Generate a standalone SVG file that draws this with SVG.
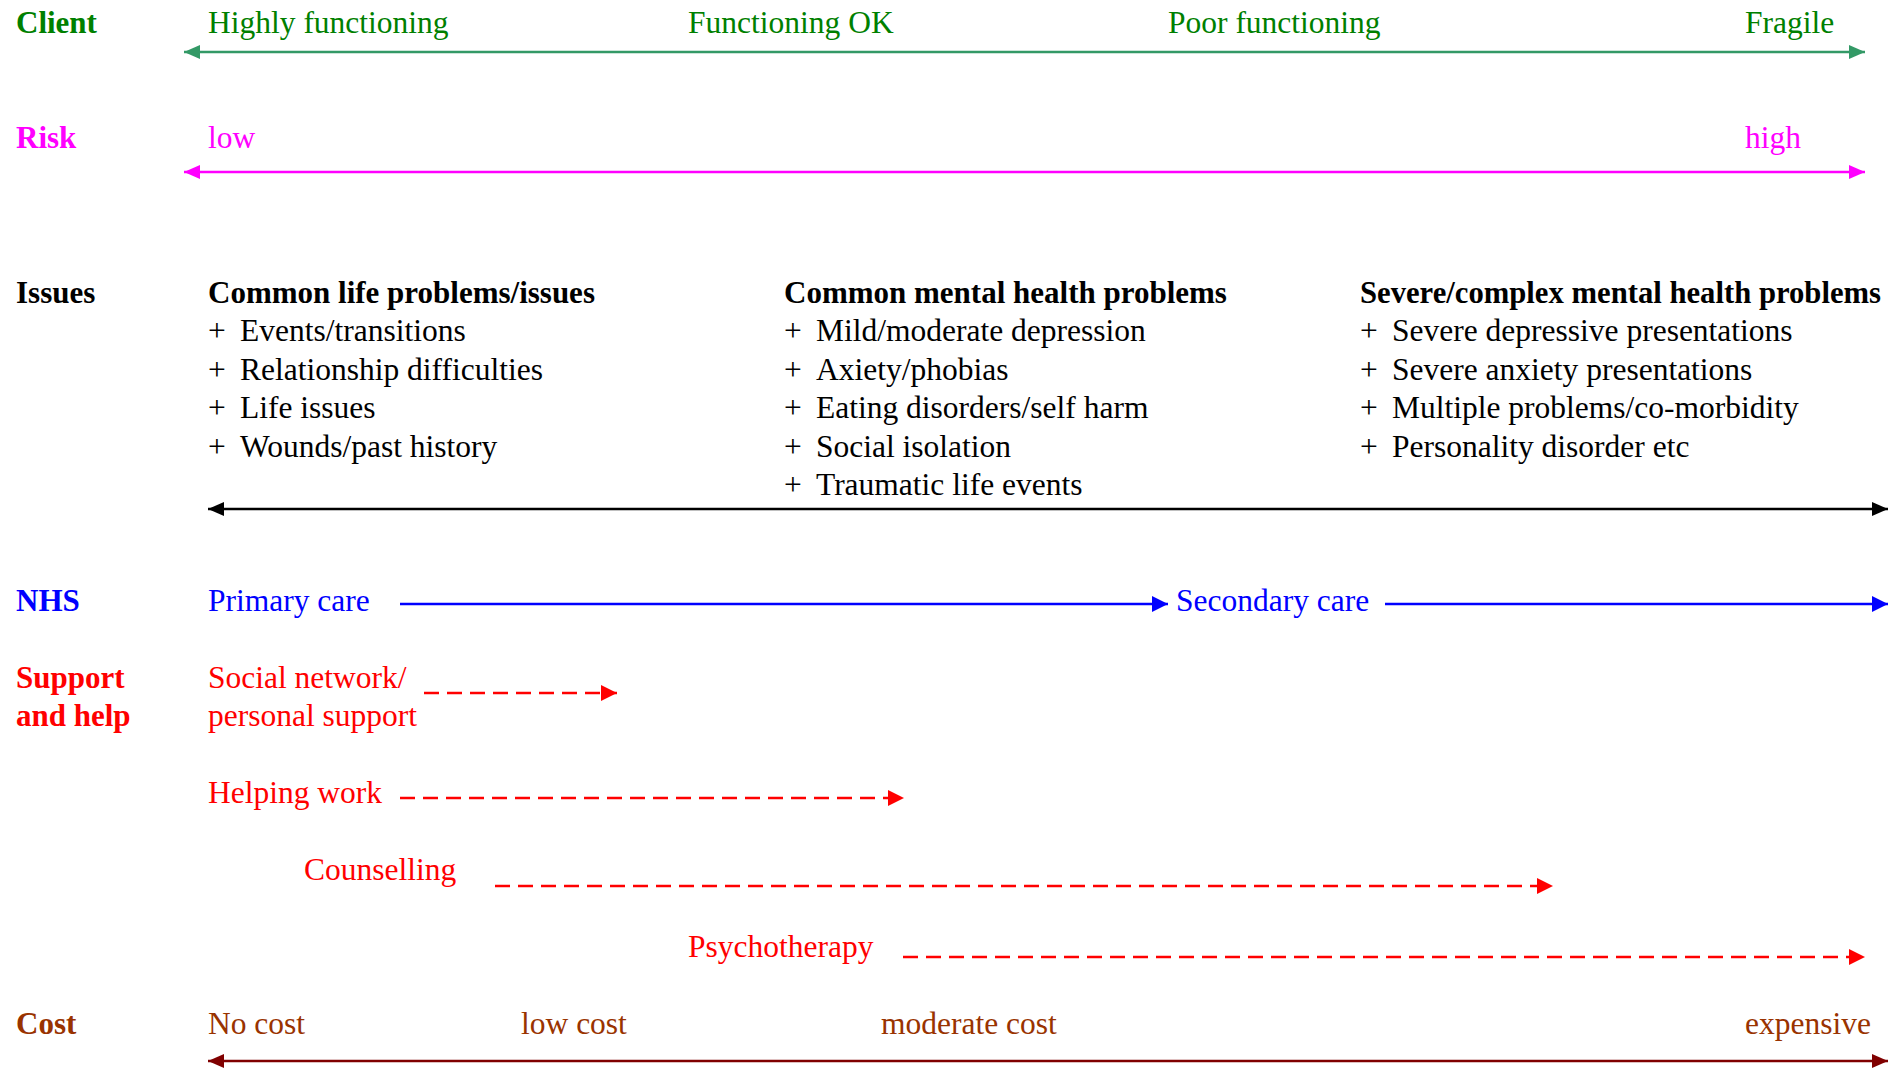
<svg xmlns="http://www.w3.org/2000/svg" width="1890" height="1069" viewBox="0 0 1890 1069">
  <style>
    text { font-family: "Liberation Serif", "Times New Roman", serif; font-size: 31.5px; }
    .head { font-weight: bold; font-size: 31px; }
    .client { fill: #008000; }
    .risk { fill: #ff00ff; }
    .issues { fill: #000000; }
    .nhs { fill: #0000ff; }
    .support { fill: #ff0000; }
    .cost { fill: #993300; }
    .ln { fill: none; stroke-width: 2.5; }
    .dash { fill: none; stroke: #ff0000; stroke-width: 2.5; stroke-dasharray: 15 8; }
  </style>
  <defs>
    <marker id="ah-green" markerUnits="userSpaceOnUse" viewBox="0 0 16 14" markerWidth="16" markerHeight="14" refX="16" refY="7" orient="auto-start-reverse"><path d="M0,0 L16,7 L0,14 z" fill="#339966"/></marker>
    <marker id="ah-magenta" markerUnits="userSpaceOnUse" viewBox="0 0 16 14" markerWidth="16" markerHeight="14" refX="16" refY="7" orient="auto-start-reverse"><path d="M0,0 L16,7 L0,14 z" fill="#ff00ff"/></marker>
    <marker id="ah-black" markerUnits="userSpaceOnUse" viewBox="0 0 16 14" markerWidth="16" markerHeight="14" refX="16" refY="7" orient="auto-start-reverse"><path d="M0,0 L16,7 L0,14 z" fill="#000000"/></marker>
    <marker id="ah-blue" markerUnits="userSpaceOnUse" viewBox="0 0 16 16" markerWidth="16" markerHeight="16" refX="16" refY="8" orient="auto"><path d="M0,0 L16,8 L0,16 z" fill="#0000ff"/></marker>
    <marker id="ah-red" markerUnits="userSpaceOnUse" viewBox="0 0 16 16" markerWidth="16" markerHeight="16" refX="16" refY="8" orient="auto"><path d="M0,0 L16,8 L0,16 z" fill="#ff0000"/></marker>
    <marker id="ah-brown" markerUnits="userSpaceOnUse" viewBox="0 0 16 14" markerWidth="16" markerHeight="14" refX="16" refY="7" orient="auto-start-reverse"><path d="M0,0 L16,7 L0,14 z" fill="#800000"/></marker>
  </defs>

  <rect width="1890" height="1069" fill="#ffffff"/>

  <!-- Client scale -->
  <g id="client">
    <text class="head client" x="16" y="33">Client</text>
    <text class="client" x="208" y="33">Highly functioning</text>
    <text class="client" x="688" y="33">Functioning OK</text>
    <text class="client" x="1168" y="33">Poor functioning</text>
    <text class="client" x="1745" y="33">Fragile</text>
  </g>

  <!-- Risk scale -->
  <g id="risk">
    <text class="head risk" x="16" y="148">Risk</text>
    <text class="risk" x="208" y="148">low</text>
    <text class="risk" x="1745" y="148">high</text>
  </g>

  <!-- Issues, three columns -->
  <g id="issues">
    <text class="head issues" x="16" y="303">Issues</text>
  </g>
  <g id="issues-life">
    <text class="head issues" x="208" y="303">Common life problems/issues</text>
    <text x="208" y="341">+</text><text x="240" y="341">Events/transitions</text>
    <text x="208" y="380">+</text><text x="240" y="380">Relationship difficulties</text>
    <text x="208" y="418">+</text><text x="240" y="418">Life issues</text>
    <text x="208" y="457">+</text><text x="240" y="457">Wounds/past history</text>
  </g>
  <g id="issues-common">
    <text class="head issues" x="784" y="303">Common mental health problems</text>
    <text x="784" y="341">+</text><text x="816" y="341">Mild/moderate depression</text>
    <text x="784" y="380">+</text><text x="816" y="380">Axiety/phobias</text>
    <text x="784" y="418">+</text><text x="816" y="418">Eating disorders/self harm</text>
    <text x="784" y="457">+</text><text x="816" y="457">Social isolation</text>
    <text x="784" y="495">+</text><text x="816" y="495">Traumatic life events</text>
  </g>
  <g id="issues-severe">
    <text class="head issues" x="1360" y="303" textLength="521" lengthAdjust="spacingAndGlyphs">Severe/complex mental health problems</text>
    <text x="1360" y="341">+</text><text x="1392" y="341">Severe depressive presentations</text>
    <text x="1360" y="380">+</text><text x="1392" y="380">Severe anxiety presentations</text>
    <text x="1360" y="418">+</text><text x="1392" y="418">Multiple problems/co-morbidity</text>
    <text x="1360" y="457">+</text><text x="1392" y="457">Personality disorder etc</text>
  </g>

  <!-- NHS -->
  <g id="nhs">
    <text class="head nhs" x="16" y="611">NHS</text>
    <text class="nhs" x="208" y="611">Primary care</text>
    <text class="nhs" x="1176" y="611">Secondary care</text>
  </g>

  <!-- Support and help -->
  <g id="support">
    <text class="head support" x="16" y="688">Support</text>
    <text class="head support" x="16" y="726">and help</text>
  </g>
  <g id="social-network">
    <text class="support" x="208" y="688">Social network/</text>
    <text class="support" x="208" y="726">personal support</text>
  </g>
  <g id="helping-work">
    <text class="support" x="208" y="803">Helping work</text>
  </g>
  <g id="counselling">
    <text class="support" x="304" y="880">Counselling</text>
  </g>
  <g id="psychotherapy">
    <text class="support" x="688" y="957">Psychotherapy</text>
  </g>

  <!-- Cost -->
  <g id="cost">
    <text class="head cost" x="16" y="1034">Cost</text>
    <text class="cost" x="208" y="1034">No cost</text>
    <text class="cost" x="521" y="1034">low cost</text>
    <text class="cost" x="881" y="1034">moderate cost</text>
    <text class="cost" x="1745" y="1034">expensive</text>
  </g>

  <!-- Scales and arrows -->
  <g id="connectors">
    <line class="ln" x1="184" y1="52" x2="1865" y2="52" stroke="#339966" marker-start="url(#ah-green)" marker-end="url(#ah-green)"/>
    <line class="ln" x1="184" y1="172" x2="1865" y2="172" stroke="#ff00ff" stroke-width="3" marker-start="url(#ah-magenta)" marker-end="url(#ah-magenta)"/>
    <line class="ln" x1="208" y1="509" x2="1888" y2="509" stroke="#000000" marker-start="url(#ah-black)" marker-end="url(#ah-black)"/>
    <line class="ln" x1="400" y1="604" x2="1168" y2="604" stroke="#0000ff" marker-end="url(#ah-blue)"/>
    <line class="ln" x1="1385" y1="604" x2="1888" y2="604" stroke="#0000ff" marker-end="url(#ah-blue)"/>
    <line class="dash" x1="424" y1="693" x2="617" y2="693" marker-end="url(#ah-red)"/>
    <line class="dash" x1="400" y1="798" x2="904" y2="798" marker-end="url(#ah-red)"/>
    <line class="dash" x1="495" y1="886" x2="1553" y2="886" marker-end="url(#ah-red)"/>
    <line class="dash" x1="903" y1="957" x2="1865" y2="957" marker-end="url(#ah-red)"/>
    <line class="ln" x1="208" y1="1061" x2="1888" y2="1061" stroke="#800000" marker-start="url(#ah-brown)" marker-end="url(#ah-brown)"/>
  </g>
</svg>
